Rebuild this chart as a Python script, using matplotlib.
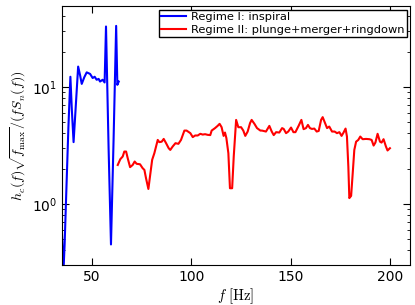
import matplotlib
matplotlib.use('Agg')
import matplotlib.pyplot as plt

plt.rcParams['mathtext.fontset'] = 'cm'

# Regime I: inspiral (blue)
f_insp = [35.0, 35.8, 36.4, 37.2, 38.3, 39.3, 40.0, 40.9, 41.8, 43.2, 44.2, 45.0,
          46.3, 47.5, 49.2, 50.5, 51.5, 52.5, 53.5, 54.2, 55.5, 56.5, 57.2,
          58.5, 59.7, 61.0, 62.3, 62.9, 63.6]
h_insp = [0.60, 0.26, 0.45, 1.2, 4.5, 12.2, 6.5, 3.37, 6.0, 14.9, 12.5, 10.6,
          12.1, 13.3, 12.9, 11.9, 12.2, 11.5, 11.7, 11.1, 11.5, 10.9, 32.8,
          3.0, 0.45, 3.5, 33.2, 10.4, 11.1]

# Regime II: plunge+merger+ringdown (red)
f_merg = [63.1, 64.4, 65.6, 66.4, 67.3, 68.1, 69.3, 70.6, 71.6, 72.6, 74.3, 75.6,
          76.5, 77.3, 78.5, 79.3, 80.4, 81.5, 83.2, 84.0, 85.2, 86.2, 87.4, 88.7,
          89.5, 90.7, 92.1, 93.6, 94.9, 96.6, 97.7, 99.6, 100.8, 102.0, 103.3,
          104.6, 105.8, 107.0, 108.3, 109.6, 110.3, 112.0, 113.3, 114.3, 115.3,
          116.3, 117.0, 117.7, 118.7, 119.5, 120.6, 121.4, 122.6, 123.7, 125.1,
          126.2, 127.2, 128.4, 129.6, 130.4, 131.8, 133.1, 134.8, 135.6, 137.6,
          139.3, 140.5, 141.5, 142.7, 144.3, 145.7, 146.5, 147.7, 148.8, 150.2,
          151.4, 152.4, 154.0, 155.4, 156.5, 157.7, 158.7, 159.7, 160.7, 161.9,
          163.1, 164.1, 165.3, 166.1, 167.3, 168.3, 169.4, 170.8, 172.1, 173.3,
          174.5, 175.6, 176.6, 177.6, 178.3, 179.0, 179.5, 180.4, 181.2, 182.0,
          182.9, 184.0, 185.0, 186.2, 187.9, 189.6, 190.7, 191.7, 192.6, 193.7,
          194.9, 195.7, 196.7, 197.9, 198.7, 199.9]
h_merg = [2.15, 2.41, 2.54, 2.80, 2.80, 2.46, 2.06, 2.15, 2.30, 2.20, 2.18, 2.02,
          1.95, 1.66, 1.34, 1.71, 2.38, 2.71, 3.52, 3.37, 3.40, 3.59, 3.30, 2.99,
          2.89, 3.09, 3.30, 3.26, 3.52, 4.23, 4.23, 4.02, 3.72, 3.84, 3.84,
          3.97, 3.91, 3.94, 3.89, 3.87, 4.23, 4.44, 4.64, 4.83, 4.52,
          3.81, 4.07, 3.65, 2.71, 1.36, 1.36, 2.54, 5.22, 4.52, 4.52,
          4.23, 3.81, 4.15, 4.90, 5.22, 4.83, 4.44, 4.23, 4.23, 4.15,
          4.64, 4.15, 3.87, 4.10, 4.07, 4.44, 4.37, 4.02, 4.15, 4.49,
          4.10, 4.10, 4.64, 5.22, 4.35, 4.44, 4.73, 4.44, 4.37, 4.40,
          4.15, 4.20, 5.22, 5.51, 4.90, 4.44, 4.58, 4.15, 4.15, 4.02,
          4.10, 3.81, 4.07, 4.40, 3.76, 2.08, 1.12, 1.17, 1.83, 2.89,
          3.40, 3.52, 3.76, 3.57, 3.59, 3.57, 3.52, 3.15, 3.34, 3.97,
          3.40, 3.34, 3.57, 3.09, 2.86, 2.99]

fig = plt.figure(figsize=(4.15, 3.05), dpi=100)
ax = fig.add_axes([0.149, 0.131, 0.839, 0.849])

ax.plot(f_insp, h_insp, color='blue', lw=1.5, label='Regime I: inspiral')
ax.plot(f_merg, h_merg, color='red', lw=1.5, label='Regime II: plunge+merger+ringdown')

ax.set_yscale('log')
ax.set_xlim(35, 210)
ax.set_ylim(0.3, 49)
ax.set_xticks([50, 100, 150, 200])
ax.tick_params(which='both', direction='in', top=True, right=True, labelsize=10)
ax.tick_params(which='major', length=5)
ax.tick_params(which='minor', length=2.5)

ax.set_xlabel(r'$f\ [\mathrm{Hz}]$', fontsize=10.5, labelpad=2)
ax.set_ylabel(r'$h_c(f)\sqrt{f_{\max}}/(fS_n(f))$', fontsize=10, labelpad=3)

leg = ax.legend(loc='upper right', fontsize=8.2, fancybox=False, framealpha=1,
                borderpad=0.2, labelspacing=0.25, handlelength=2.2,
                handletextpad=0.4, borderaxespad=0.3)
leg.get_frame().set_edgecolor('black')

fig.savefig('out.png', dpi=100)
